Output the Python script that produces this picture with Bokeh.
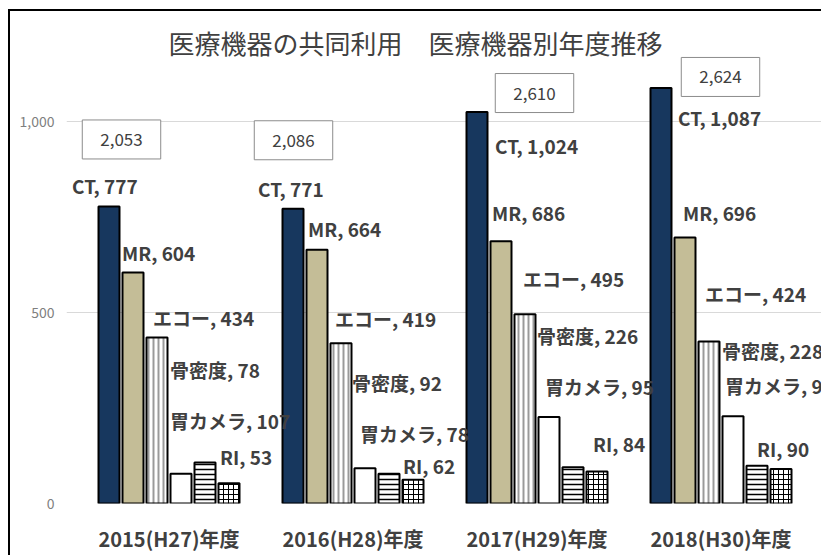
from bokeh.plotting import figure
from bokeh.models import ColumnDataSource, FactorRange, Range1d, LabelSet, Label, FixedTicker, NumeralTickFormatter
from bokeh.transform import dodge
from bokeh.core.properties import value
from bokeh.embed import file_html
from bokeh.resources import INLINE

# ---- data ----
years = ["2015(H27)年度", "2016(H28)年度", "2017(H29)年度", "2018(H30)年度"]
devices = ["CT", "MR", "エコー", "骨密度", "胃カメラ", "RI"]
ct = [777, 771, 1024, 1087]
mr = [604, 664, 686, 696]
echo = [434, 419, 495, 424]
bone = [78, 92, 226, 228]
gastro = [107, 78, 95, 99]
ri = [53, 62, 84, 90]
totals = [2053, 2086, 2610, 2624]
title_text = "医療機器の共同利用　医療機器別年度推移"
y_ticks = [0, 500, 1000]

series = [ct, mr, echo, bone, gastro, ri]

# ---- layout / style (pixel offsets of the data labels from the bar top) ----
label_dx = [[-37, -35, 18, 17], [-11, -9, -9, -2], [-4, -6, -2, -4],
            [-11, -13, -12, -11], [-35, -29, -28, -32], [-9, -10, -4, -24]]
label_dy = [[21, 20, -33, -30], [20, 21, 29, 25], [20, 25, 36, 48],
            [104, 86, 82, 66], [42, 40, 81, 80], [27, 14, 28, 21]]
box_dx = [-47.5, -59.5, -2.5, -0.5]
box_dy = [67, 68.5, 19, 11]

bar_styles = [
    dict(fill_color="#17375E"),
    dict(fill_color="#C4BD97"),
    dict(fill_color="white", hatch_pattern="vertical_line", hatch_color="#9A9A9A", hatch_scale=5, hatch_weight=2),
    dict(fill_color="white"),
    dict(fill_color="white", hatch_pattern="horizontal_line", hatch_color="black", hatch_scale=5, hatch_weight=1.5),
    dict(fill_color="white", hatch_pattern="cross", hatch_color="black", hatch_scale=5, hatch_weight=1),
]

FONT = "Noto Sans CJK JP"
TXT = "#404040"

p = figure(width=813, height=546,
           x_range=FactorRange(factors=years, range_padding=10.5 / 184, range_padding_units="absolute"),
           y_range=Range1d(0, 1287), output_backend="svg", toolbar_location=None,
           min_border_left=56, min_border_right=0, min_border_top=0, min_border_bottom=54)
p.title.visible = False
p.styles = {"margin-left": "8px", "margin-top": "9px",
            "border-left": "2px solid black", "border-top": "2px solid black"}
p.outline_line_color = None
p.background_fill_color = "white"
p.border_fill_color = "white"

slot = 24 / 184
bw = 21 / 184
for i, (dev, vals) in enumerate(zip(devices, series)):
    src = ColumnDataSource(dict(
        year=years, v=vals,
        label=[f"{dev}, {v:,}" for v in vals],
        dx=label_dx[i], dy=label_dy[i]))
    off = (i - 2.5) * slot
    p.vbar(x=dodge("year", off, range=p.x_range), top="v", width=bw, source=src,
           line_color="black", line_width=2, **bar_styles[i])
    p.add_layout(LabelSet(x=dodge("year", off, range=p.x_range), y="v", text="label", source=src,
                          x_offset="dx", y_offset="dy", text_align="left", text_baseline="middle",
                          text_font=value(FONT), text_font_style="bold", text_font_size="19px",
                          text_color=TXT))

for j, y in enumerate(years):
    # categorical centre of factor j in synthetic coordinates
    p.add_layout(Label(x=years.index(y) + 0.5, y=ct[j], x_offset=box_dx[j], y_offset=box_dy[j],
                       text=f"{totals[j]:,}",
                       text_align="center", text_baseline="middle", text_font=FONT,
                       text_font_size="17px", text_color=TXT,
                       border_line_color="#8C8C8C", border_line_width=1,
                       background_fill_color="white", padding=(18, 13)))

p.add_layout(Label(x=349, y=461, x_units="screen", y_units="screen", text=title_text,
                   text_align="center", text_baseline="middle", text_font=FONT,
                   text_font_size="26px", text_color=TXT))

p.xgrid.grid_line_color = None
p.ygrid.grid_line_color = "#D9D9D9"
p.ygrid.grid_line_width = 1
p.yaxis.ticker = FixedTicker(ticks=y_ticks)
p.yaxis.formatter = NumeralTickFormatter(format="0,0")
p.yaxis.axis_line_color = None
p.yaxis.major_tick_line_color = None
p.yaxis.minor_tick_line_color = None
p.yaxis.major_label_standoff = 6
p.yaxis.major_label_text_font = FONT
p.yaxis.major_label_text_font_size = "14px"
p.yaxis.major_label_text_color = "#7F7F7F"

p.xaxis.axis_line_color = None
p.xaxis.major_tick_line_color = None
p.xaxis.major_label_standoff = 14
p.xaxis.major_label_text_font = FONT
p.xaxis.major_label_text_font_style = "bold"
p.xaxis.major_label_text_font_size = "20px"
p.xaxis.major_label_text_color = TXT

open("out.html", "w").write(file_html(p, INLINE))
